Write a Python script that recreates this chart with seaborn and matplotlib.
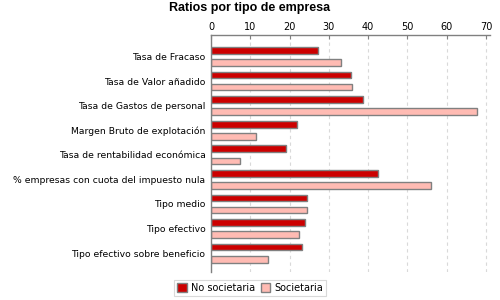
import pandas as pd
import seaborn as sns
import matplotlib
matplotlib.use("Agg")
import matplotlib.pyplot as plt

# datos
categorias = ["Tasa de Fracaso", "Tasa de Valor añadido", "Tasa de Gastos de personal",
              "Margen Bruto de explotación", "Tasa de rentabilidad económica",
              "% empresas con cuota del impuesto nula", "Tipo medio", "Tipo efectivo",
              "Tipo efectivo sobre beneficio"]
no_societaria = [27.2, 35.7, 38.7, 21.9, 19.1, 42.5, 24.4, 23.9, 23.2]
societaria = [33.2, 36.0, 67.8, 11.5, 7.3, 55.9, 24.5, 22.4, 14.5]
series = ["No societaria", "Societaria"]
x_ticks = [0, 10, 20, 30, 40, 50, 60, 70]

df = pd.DataFrame({"categoria": categorias * 2,
                   "valor": no_societaria + societaria,
                   "tipo": [series[0]] * len(categorias) + [series[1]] * len(categorias)})

sns.set_style("white", {"text.color": "black", "xtick.color": "black", "ytick.color": "black"})
plt.rcParams["font.family"] = ["DejaVu Sans"]

f, ax = plt.subplots(figsize=(5, 3), dpi=100)
f.subplots_adjust(left=0.422, right=0.98, top=0.883, bottom=0.093)

sns.barplot(data=df, y="categoria", x="valor", hue="tipo", orient="h",
            palette=["#cc0000", "#ffbbb3"], saturation=1, width=0.98, gap=0.45,
            edgecolor="#808080", linewidth=1, ax=ax, legend=True)

ax.set_xlim(0, 71)
ax.set_ylim(8.77, -0.87)
ax.set_xticks(x_ticks)
ax.xaxis.tick_top()
ax.tick_params(axis="x", labelsize=7, direction="in", length=3, color="#808080",
               labelcolor="black", pad=2)
ax.tick_params(axis="y", labelsize=6.7, length=0, pad=4, labelcolor="black")
ax.grid(axis="x", linestyle=(0, (3, 3)), color="#d9d9d9", linewidth=0.8)
ax.set_axisbelow(True)
for s in ["right", "bottom"]:
    ax.spines[s].set_visible(False)
for s in ["top", "left"]:
    ax.spines[s].set_color("#808080")
    ax.spines[s].set_linewidth(1)
ax.set(xlabel=None, ylabel=None)

f.suptitle("Ratios por tipo de empresa", fontsize=9, fontweight="bold", color="black",
           family=["Liberation Sans", "DejaVu Sans"], x=0.5, y=0.995)

handles, labels = ax.get_legend_handles_labels()
ax.get_legend().remove()
leg = f.legend(handles, labels, loc="center", bbox_to_anchor=(0.5, 0.04), ncol=2, fontsize=7,
               frameon=True, fancybox=False, edgecolor="#d0d0d0", handlelength=1.0,
               handleheight=1.0, handletextpad=0.4, columnspacing=0.6, borderpad=0.3,
               labelcolor="black")
leg.get_frame().set_linewidth(0.8)

f.savefig("out.png", dpi=100)
